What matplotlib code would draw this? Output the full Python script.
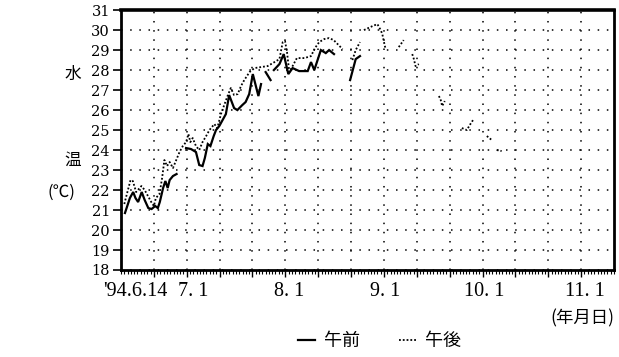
import numpy as np
import matplotlib.pyplot as plt

nan = np.nan

# days counted from the start of the record ('94.6.14); nan breaks a missing stretch
am_day = [1.2, 2.7, 3.7, 4.4, 5.2, 6.3, 7.2, 8.3, 9.3, 10.4, 11.2, 11.8, 12.8, 13.5, 14.2,
          14.8, 15.8, 16.9, nan,
          19.8, 21.3, 22.8, 23.8, 24.8, 25.5, 26.4, 27.2, 28.2, 28.9, 29.9, 30.9, 31.9,
          32.9, 34.4, 35.4, 36.9, 37.9, 39.0, 40.1, 41.8, 42.6, nan,
          44.0, 45.5, nan,
          46.5, 48.2, 49.5, 50.9, 52.2, 54.2, 56.8, 57.8, 58.8, 60.8, 62.3, 63.3, 64.8, nan,
          69.7, 71.4, 72.7]
am_temp = [20.85, 21.6, 21.9, 21.6, 21.4, 21.9, 21.5, 21.1, 21.05, 21.2, 21.1, 21.4, 22.1,
           22.45, 22.1, 22.5, 22.7, 22.8, nan,
           24.1, 24.05, 23.9, 23.25, 23.2, 23.6, 24.3, 24.2, 24.7, 25.0, 25.2, 25.5, 25.8,
           26.75, 26.1, 26.0, 26.25, 26.4, 26.8, 27.8, 26.7, 27.3, nan,
           27.9, 27.5, nan,
           28.0, 28.3, 28.8, 27.8, 28.1, 27.95, 27.95, 28.4, 28.0, 29.0, 28.85, 29.0, 28.8, nan,
           27.5, 28.55, 28.7]

pm_day = [1.0, 2.1, 2.9, 3.6, 4.6, 6.2, 7.2, 8.2, 9.2, 10.0, 10.6, 11.7, 12.5, 13.2, 14.0,
          14.8, 15.8, 16.8, 17.8, 18.8, 19.8, 20.5, 21.1, 21.8, 22.8, 23.8, 24.8, 25.9,
          26.9, 28.4, 29.3, 30.4, 31.4, 32.4, 33.4, 34.4, 35.5, 36.5, 37.5, 39.1, 40.6,
          42.6, 44.6, 46.7, 48.2, 49.2, 49.9, 50.5, 51.2, 52.2, 53.5, 55.8, 57.8, 59.0,
          60.3, 61.8, 63.3, 64.7, 65.9, 67.4, nan,
          70.4, 71.4, 72.7, nan,
          73.9, 76.5, 78.0, 79.0, 79.5, 80.0, 80.5, nan,
          84.5, 86.0, nan,
          88.6, 89.1, 89.6, 90.6, nan,
          96.7, 97.2, 97.7, 98.5, nan,
          103.7, 105.2, 106.3, 107.3, nan,
          111.3, 112.8, nan,
          114.3, 115.8]
pm_temp = [21.3, 22.0, 22.5, 22.45, 21.9, 22.2, 22.0, 21.7, 21.4, 21.2, 21.6, 21.8, 22.6,
           23.5, 23.2, 23.4, 23.1, 23.5, 23.9, 24.2, 24.4, 24.8, 24.4, 24.6, 24.2, 24.0,
           24.4, 24.7, 25.0, 25.3, 25.1, 25.8, 26.25, 26.7, 27.1, 26.75, 26.8, 27.2, 27.5,
           27.9, 28.1, 28.15, 28.2, 28.4, 28.55, 29.4, 29.45, 28.9, 27.9, 28.2, 28.6, 28.6,
           28.7, 29.1, 29.4, 29.55, 29.6, 29.5, 29.3, 29.05, nan,
           28.5, 29.0, 29.4, nan,
           30.0, 30.2, 30.3, 30.0, 29.8, 29.4, 29.05, nan,
           29.15, 29.5, nan,
           28.8, 28.55, 28.2, 28.3, nan,
           26.7, 26.55, 26.2, 26.45, nan,
           25.1, 25.0, 25.3, 25.55, nan,
           24.7, 24.5, nan,
           24.0, 23.95]

temp_ticks = list(range(18, 32))
date_pos = [4.5, 22, 51, 80.5, 110.5, 141]
date_labels = ["'94.6.14", "7. 1", "8. 1", "9. 1", "10. 1", "11. 1"]

jp = ['Noto Sans CJK JP', 'DejaVu Sans']

fig = plt.figure(figsize=(6.19, 3.57), dpi=100)
ax = fig.add_axes([0.1955, 0.2437, 0.7965, 0.728])

l1, = ax.plot(am_day, am_temp, color='black', lw=1.6, solid_joinstyle='miter')
l2, = ax.plot(pm_day, pm_temp, color='black', lw=1.3, linestyle=(0, (1, 1.1)))

ax.set_xlim(0, 150)
ax.set_ylim(18, 31)
ax.set_yticks(temp_ticks)
ax.set_yticklabels([str(t) for t in temp_ticks], family='DejaVu Serif', fontsize=10.5)
ax.set_xticks(np.arange(10, 150, 10))
ax.set_xticks(np.arange(0, 151, 1), minor=True)
ax.tick_params(axis='x', which='major', length=5, width=1, labelbottom=False)
ax.tick_params(axis='x', which='minor', length=3, width=0.8)
ax.tick_params(axis='y', which='major', length=6, width=1.2, pad=2)

ax.grid(True, which='major', color='black', lw=1.1, linestyle=(0, (1, 5)))
for s in ax.spines.values():
    s.set_linewidth(2)
ax.spines['top'].set_linewidth(2.6)

# date labels on their own axis so they sit apart from the 10-day grid ticks
sec = ax.secondary_xaxis('bottom')
sec.set_xticks(date_pos)
sec.set_xticklabels(date_labels, family='Liberation Serif', fontsize=14.5)
sec.tick_params(length=0, pad=9)
sec.spines['bottom'].set_visible(False)

fig.text(0.117, 0.79, '水', family=jp, fontsize=12, ha='center', va='center')
fig.text(0.117, 0.552, '温', family=jp, fontsize=12, ha='center', va='center')
fig.text(0.1, 0.462, '(℃)', family=jp, fontsize=12, ha='center', va='center')
fig.text(0.993, 0.108, '(年月日)', family=jp, fontsize=12.5, ha='right', va='center')

fig.legend([l1, l2], ['午前', '午後'], loc='center', bbox_to_anchor=(0.613, 0.045),
           ncol=2, frameon=False, handlelength=0.9, handletextpad=0.5, columnspacing=2.2,
           prop={'family': jp, 'size': 13})

fig.savefig('out.png', dpi=100)
